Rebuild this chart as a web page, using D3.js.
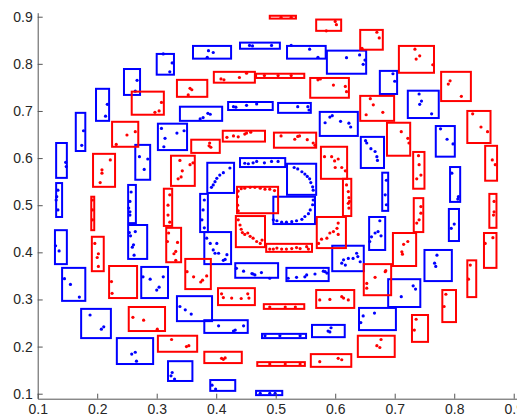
<!DOCTYPE html>
<html>
<head>
<meta charset="utf-8">
<script src="https://cdn.jsdelivr.net/npm/d3@7"></script>
<style>
  body { margin: 0; background: #fff; }
  svg { display: block; }
  .tick text { font-family: "Liberation Sans", Arial, sans-serif; font-size: 14px; fill: #262626; }
</style>
</head>
<body>
<div id="chart"></div>
<script>
// boxes are [x0, x1, y0, y1], dots are [x, y]
const xTicks = [0.1, 0.2, 0.3, 0.4, 0.5, 0.6, 0.7, 0.8, 0.9];
const yTicks = [0.1, 0.2, 0.3, 0.4, 0.5, 0.6, 0.7, 0.8, 0.9];

const blueBoxes = [
  [0.300,0.329,0.777,0.821],[0.245,0.272,0.734,0.789],[0.198,0.220,0.679,0.747],[0.164,0.180,0.615,0.696],
  [0.131,0.149,0.558,0.632],[0.131,0.141,0.475,0.547],[0.129,0.149,0.375,0.447],[0.141,0.180,0.297,0.367],
  [0.173,0.223,0.218,0.280],[0.233,0.294,0.163,0.218],[0.319,0.360,0.127,0.169],[0.390,0.432,0.106,0.129],
  [0.467,0.511,0.097,0.106],[0.361,0.425,0.811,0.838],[0.440,0.507,0.832,0.845],[0.519,0.584,0.811,0.838],
  [0.586,0.652,0.779,0.828],[0.675,0.704,0.736,0.785],[0.722,0.774,0.685,0.743],[0.769,0.801,0.603,0.668],
  [0.793,0.810,0.507,0.581],[0.791,0.808,0.424,0.492],[0.750,0.796,0.339,0.405],[0.689,0.743,0.284,0.343],
  [0.640,0.702,0.235,0.282],[0.561,0.616,0.220,0.246],[0.477,0.551,0.218,0.227],[0.380,0.453,0.229,0.256],
  [0.334,0.393,0.254,0.307],[0.274,0.319,0.303,0.369],[0.252,0.284,0.386,0.458],[0.252,0.265,0.462,0.543],
  [0.264,0.289,0.554,0.628],[0.302,0.351,0.617,0.673],[0.339,0.410,0.679,0.709],[0.420,0.495,0.702,0.719],
  [0.504,0.559,0.696,0.717],[0.574,0.638,0.647,0.698],[0.643,0.682,0.579,0.645],[0.679,0.689,0.488,0.569],
  [0.657,0.684,0.405,0.475],[0.595,0.648,0.360,0.414],[0.518,0.589,0.339,0.367],[0.432,0.504,0.346,0.377],
  [0.380,0.425,0.375,0.443],[0.373,0.386,0.443,0.524],[0.385,0.430,0.526,0.590],[0.440,0.516,0.581,0.600],
  [0.519,0.568,0.522,0.588],[0.496,0.566,0.460,0.518]
];

const redBoxes = [
  [0.490,0.534,0.896,0.902],[0.568,0.610,0.870,0.894],[0.642,0.680,0.830,0.872],[0.707,0.766,0.781,0.838],
  [0.778,0.828,0.721,0.783],[0.822,0.861,0.632,0.700],[0.852,0.872,0.552,0.626],[0.859,0.871,0.452,0.524],
  [0.850,0.871,0.367,0.441],[0.822,0.837,0.305,0.383],[0.780,0.803,0.252,0.320],[0.729,0.756,0.210,0.267],
  [0.638,0.700,0.178,0.223],[0.559,0.627,0.157,0.184],[0.469,0.549,0.159,0.167],[0.380,0.443,0.165,0.189],
  [0.302,0.368,0.189,0.223],[0.253,0.314,0.233,0.284],[0.220,0.267,0.303,0.371],[0.191,0.211,0.360,0.433],
  [0.190,0.195,0.447,0.518],[0.193,0.230,0.539,0.609],[0.225,0.269,0.624,0.677],[0.258,0.312,0.692,0.741],
  [0.334,0.385,0.730,0.766],[0.396,0.465,0.760,0.783],[0.467,0.548,0.770,0.779],[0.558,0.623,0.728,0.770],
  [0.642,0.699,0.679,0.732],[0.687,0.726,0.605,0.675],[0.731,0.750,0.535,0.613],[0.732,0.748,0.443,0.515],
  [0.697,0.736,0.371,0.441],[0.648,0.694,0.309,0.375],[0.568,0.632,0.282,0.320],[0.480,0.548,0.280,0.290],
  [0.403,0.465,0.288,0.324],[0.348,0.391,0.322,0.386],[0.316,0.341,0.379,0.452],[0.312,0.326,0.456,0.535],
  [0.324,0.364,0.541,0.605],[0.358,0.406,0.611,0.639],[0.411,0.482,0.635,0.658],[0.497,0.568,0.622,0.654],
  [0.576,0.620,0.556,0.624],[0.613,0.627,0.477,0.556],[0.569,0.618,0.409,0.475],[0.484,0.561,0.401,0.418],
  [0.433,0.482,0.411,0.477],[0.435,0.504,0.483,0.539]
];

const blueDots = [
  [0.326,0.802],[0.322,0.783],[0.311,0.821],[0.267,0.765],[0.264,0.742],[0.217,0.714],[0.214,0.689],
  [0.177,0.658],[0.174,0.627],[0.147,0.591],[0.148,0.582],[0.134,0.490],[0.132,0.518],[0.131,0.511],
  [0.134,0.532],[0.130,0.414],[0.136,0.403],[0.145,0.344],[0.155,0.332],[0.170,0.305],[0.188,0.267],
  [0.211,0.242],[0.207,0.237],[0.258,0.184],[0.264,0.188],[0.266,0.169],[0.326,0.145],[0.324,0.138],
  [0.330,0.131],[0.393,0.118],[0.399,0.110],[0.474,0.101],[0.490,0.101],[0.499,0.101],[0.387,0.828],
  [0.395,0.824],[0.385,0.814],[0.456,0.839],[0.461,0.838],[0.493,0.839],[0.557,0.831],[0.526,0.839],
  [0.571,0.814],[0.619,0.813],[0.641,0.819],[0.647,0.799],[0.650,0.808],[0.697,0.779],[0.700,0.763],
  [0.741,0.736],[0.745,0.721],[0.742,0.714],[0.762,0.694],[0.777,0.662],[0.788,0.640],[0.798,0.630],
  [0.807,0.518],[0.806,0.513],[0.796,0.568],[0.800,0.460],[0.795,0.451],[0.771,0.394],[0.767,0.377],
  [0.769,0.370],[0.731,0.329],[0.735,0.322],[0.711,0.306],[0.666,0.271],[0.647,0.265],[0.643,0.251],
  [0.588,0.233],[0.593,0.240],[0.591,0.231],[0.482,0.223],[0.507,0.223],[0.541,0.223],[0.404,0.244],
  [0.429,0.233],[0.432,0.235],[0.446,0.244],[0.339,0.285],[0.358,0.269],[0.348,0.278],[0.277,0.348],
  [0.289,0.343],[0.300,0.320],[0.304,0.326],[0.311,0.348],[0.264,0.444],[0.256,0.435],[0.261,0.416],
  [0.259,0.411],[0.262,0.394],[0.254,0.442],[0.255,0.508],[0.253,0.494],[0.255,0.486],[0.255,0.479],
  [0.257,0.528],[0.285,0.598],[0.279,0.576],[0.271,0.603],[0.308,0.663],[0.314,0.642],[0.312,0.624],
  [0.334,0.653],[0.346,0.658],[0.386,0.695],[0.390,0.693],[0.378,0.686],[0.373,0.683],[0.429,0.709],
  [0.433,0.708],[0.451,0.712],[0.468,0.715],[0.537,0.709],[0.554,0.709],[0.556,0.702],[0.591,0.687],
  [0.595,0.690],[0.583,0.675],[0.609,0.678],[0.623,0.674],[0.626,0.666],[0.651,0.637],[0.653,0.632],
  [0.660,0.620],[0.667,0.614],[0.670,0.603],[0.671,0.595],[0.686,0.553],[0.684,0.522],[0.686,0.501],
  [0.675,0.467],[0.672,0.444],[0.667,0.441],[0.661,0.433],[0.677,0.435],[0.658,0.423],[0.636,0.398],
  [0.638,0.391],[0.630,0.387],[0.622,0.387],[0.614,0.384],[0.611,0.377],[0.617,0.373],[0.642,0.380],
  [0.521,0.345],[0.535,0.347],[0.549,0.348],[0.552,0.352],[0.566,0.354],[0.580,0.360],[0.586,0.356],
  [0.583,0.359],[0.434,0.366],[0.446,0.360],[0.462,0.354],[0.460,0.355],[0.465,0.352],[0.476,0.357],
  [0.490,0.345],[0.384,0.430],[0.390,0.419],[0.401,0.419],[0.395,0.405],[0.398,0.398],[0.404,0.398],
  [0.418,0.395],[0.412,0.383],[0.415,0.385],[0.380,0.511],[0.378,0.490],[0.376,0.469],[0.380,0.452],
  [0.412,0.569],[0.406,0.564],[0.401,0.557],[0.398,0.550],[0.395,0.543],[0.392,0.538],[0.423,0.579],
  [0.448,0.589],[0.454,0.588],[0.462,0.590],[0.468,0.593],[0.481,0.590],[0.493,0.593],[0.504,0.593],
  [0.531,0.580],[0.537,0.577],[0.544,0.571],[0.549,0.566],[0.553,0.561],[0.557,0.556],[0.559,0.548],
  [0.562,0.539],[0.563,0.532],[0.563,0.511],[0.562,0.501],[0.558,0.490],[0.555,0.482],[0.549,0.476],
  [0.544,0.470],[0.535,0.467],[0.527,0.465],[0.518,0.464],[0.510,0.464],[0.502,0.467],[0.496,0.469]
];

const redDots = [
  [0.509,0.899],[0.526,0.899],[0.600,0.890],[0.602,0.883],[0.585,0.870],[0.670,0.867],[0.674,0.855],
  [0.645,0.833],[0.734,0.831],[0.742,0.817],[0.736,0.810],[0.764,0.798],[0.793,0.764],[0.790,0.757],
  [0.812,0.731],[0.831,0.694],[0.845,0.666],[0.856,0.656],[0.864,0.596],[0.869,0.586],[0.867,0.508],
  [0.867,0.486],[0.866,0.479],[0.852,0.419],[0.865,0.431],[0.827,0.373],[0.824,0.343],[0.786,0.311],
  [0.783,0.285],[0.736,0.258],[0.733,0.235],[0.677,0.215],[0.670,0.202],[0.675,0.198],[0.574,0.168],
  [0.605,0.175],[0.611,0.172],[0.490,0.163],[0.516,0.163],[0.541,0.163],[0.409,0.175],[0.415,0.176],
  [0.412,0.173],[0.325,0.215],[0.350,0.200],[0.354,0.202],[0.260,0.262],[0.278,0.256],[0.301,0.237],
  [0.224,0.338],[0.225,0.313],[0.196,0.419],[0.202,0.397],[0.200,0.389],[0.202,0.370],[0.192,0.511],
  [0.192,0.490],[0.192,0.469],[0.222,0.596],[0.208,0.575],[0.208,0.568],[0.205,0.548],[0.250,0.649],
  [0.264,0.656],[0.232,0.629],[0.308,0.718],[0.304,0.700],[0.297,0.697],[0.356,0.748],[0.359,0.745],
  [0.353,0.734],[0.408,0.768],[0.413,0.766],[0.439,0.771],[0.451,0.780],[0.481,0.775],[0.504,0.775],
  [0.526,0.775],[0.571,0.766],[0.575,0.768],[0.597,0.755],[0.617,0.752],[0.619,0.741],[0.659,0.726],
  [0.664,0.713],[0.680,0.697],[0.652,0.692],[0.711,0.656],[0.724,0.632],[0.722,0.642],[0.740,0.605],
  [0.741,0.586],[0.744,0.564],[0.737,0.556],[0.741,0.469],[0.744,0.483],[0.737,0.462],[0.744,0.497],
  [0.722,0.423],[0.715,0.417],[0.712,0.401],[0.713,0.396],[0.685,0.361],[0.684,0.359],[0.667,0.347],
  [0.653,0.334],[0.653,0.324],[0.574,0.299],[0.591,0.300],[0.611,0.306],[0.614,0.303],[0.622,0.299],
  [0.490,0.284],[0.516,0.284],[0.533,0.284],[0.409,0.312],[0.412,0.304],[0.426,0.303],[0.442,0.302],
  [0.453,0.312],[0.455,0.303],[0.351,0.359],[0.362,0.348],[0.384,0.350],[0.374,0.337],[0.377,0.341],
  [0.320,0.441],[0.318,0.423],[0.335,0.421],[0.332,0.402],[0.329,0.397],[0.332,0.383],[0.322,0.522],
  [0.319,0.500],[0.319,0.479],[0.322,0.464],[0.339,0.595],[0.356,0.586],[0.361,0.590],[0.343,0.573],
  [0.341,0.560],[0.336,0.556],[0.388,0.626],[0.391,0.623],[0.389,0.632],[0.418,0.644],[0.429,0.647],
  [0.448,0.651],[0.451,0.653],[0.458,0.655],[0.437,0.645],[0.509,0.647],[0.532,0.640],[0.537,0.646],
  [0.540,0.647],[0.553,0.639],[0.563,0.632],[0.566,0.627],[0.582,0.603],[0.594,0.603],[0.599,0.594],
  [0.605,0.598],[0.600,0.580],[0.611,0.580],[0.617,0.573],[0.619,0.543],[0.622,0.529],[0.623,0.516],
  [0.624,0.508],[0.622,0.504],[0.623,0.494],[0.605,0.462],[0.603,0.451],[0.597,0.444],[0.591,0.441],
  [0.586,0.430],[0.577,0.428],[0.572,0.419],[0.605,0.438],[0.490,0.407],[0.496,0.407],[0.502,0.409],
  [0.510,0.407],[0.518,0.407],[0.527,0.408],[0.535,0.410],[0.541,0.408],[0.552,0.412],[0.555,0.407],
  [0.437,0.469],[0.440,0.458],[0.442,0.449],[0.444,0.442],[0.448,0.438],[0.453,0.441],[0.457,0.434],
  [0.462,0.430],[0.468,0.423],[0.474,0.419],[0.477,0.426],[0.437,0.530],[0.442,0.535],[0.448,0.536],
  [0.457,0.538],[0.465,0.538],[0.474,0.536],[0.482,0.534],[0.490,0.534],[0.498,0.531],[0.436,0.518],
  [0.436,0.500],[0.437,0.488]
];

const width = 517;
const height = 418;

const svg = d3.select('#chart')
  .append('svg')
  .attr('width', width)
  .attr('height', height);

// axes limits (the picture is cropped on the right)
const xScale = d3.scaleLinear().domain([0.1, 0.905]).range([37.7, 516.7]);
const yScale = d3.scaleLinear().domain([0.0894, 0.9085]).range([398.7, 12.7]);

const series = [
  { color: '#0000ff', boxes: blueBoxes, dots: blueDots },
  { color: '#ff0000', boxes: redBoxes, dots: redDots }
];

series.forEach(s => {
  const g = svg.append('g');

  g.selectAll('rect')
    .data(s.boxes)
    .join('rect')
    .attr('x', d => xScale(d[0]))
    .attr('y', d => yScale(d[3]))
    .attr('width', d => xScale(d[1]) - xScale(d[0]))
    .attr('height', d => yScale(d[2]) - yScale(d[3]))
    .attr('fill', 'none')
    .attr('stroke', s.color)
    .attr('stroke-width', 2);

  g.selectAll('circle')
    .data(s.dots)
    .join('circle')
    .attr('cx', d => xScale(d[0]))
    .attr('cy', d => yScale(d[1]))
    .attr('r', 1.6)
    .attr('fill', s.color);
});

// x axis, ticks pointing inwards
svg.append('g')
  .attr('transform', 'translate(0,' + yScale(0.0894) + ')')
  .call(d3.axisBottom(xScale).tickValues(xTicks).tickSizeInner(-5).tickSizeOuter(0).tickPadding(5).tickFormat(d3.format('.1f')))
  .call(g => g.select('.domain').attr('stroke', '#555'))
  .call(g => g.selectAll('.tick line').attr('stroke', '#555'));

// y axis
svg.append('g')
  .attr('transform', 'translate(' + xScale(0.1) + ',0)')
  .call(d3.axisLeft(yScale).tickValues(yTicks).tickSizeInner(-5).tickSizeOuter(0).tickPadding(5).tickFormat(d3.format('.1f')))
  .call(g => g.select('.domain').attr('stroke', '#555'))
  .call(g => g.selectAll('.tick line').attr('stroke', '#555'));
</script>
</body>
</html>
